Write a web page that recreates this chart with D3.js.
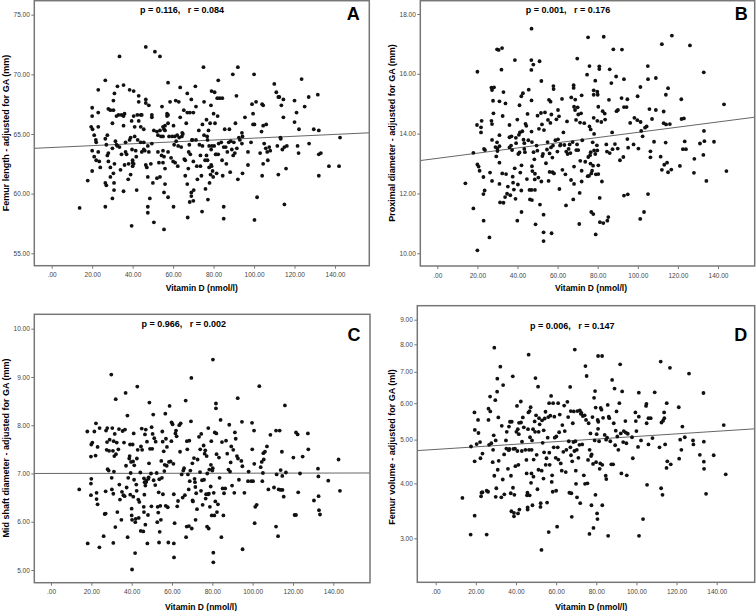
<!DOCTYPE html>
<html lang="en">
<head>
<meta charset="utf-8">
<title>Vitamin D and fetal femur measures</title>
<script src="https://d3js.org/d3.v7.min.js"></script>
<style>
  body { margin: 0; background: #fff; }
  text { font-family: Arial, "Liberation Sans", sans-serif; }
</style>
</head>
<body>
<script>
// shared x axis: Vitamin D (nmol/l)
const xTicks = [0, 20, 40, 60, 80, 100, 120, 140];
const xLabel = "Vitamin D (nmol/l)";

// ---- A: femur length
const yTicksA = [55, 60, 65, 70, 75];
const pointsA = [[13.8,58.8],[17.8,61.1],[20,67.2],[20,66.5],[19.5,65.6],[20.2,65.4],[21,64.9],[20,63.6],[21,63.1],[22,62.8],[20,61.9],[23,63.5],[23,66.8],[23,68.7],[23,65.6],[23.5,62.7],[24,62.2],[21.8,64.5],[22,64.3],[26.5,64.6],[27,64.1],[26.5,60.9],[27,60.7],[26.5,58.9],[26.5,69.5],[27.5,64.9],[28,63.4],[27.5,63.2],[28,62.7],[28,67.1],[29,67.0],[29,62.2],[29,61.4],[30,59.6],[30,65.9],[30,63.8],[30.5,67.0],[30.5,67.8],[31,68.4],[31,62.5],[30.5,61.7],[30.8,60.9],[30.8,60.3],[31.5,64.4],[32,64.1],[32,66.5],[32.5,64.0],[32.5,69.0],[33,66.6],[33.5,63.9],[34,62.0],[34.5,63.3],[33.5,71.5],[34.5,66.6],[35.5,66.5],[35.5,65.7],[36,62.4],[35.5,60.2],[35.5,69.1],[36,66.7],[36.5,64.3],[36.5,63.5],[37,63.3],[37.8,61.2],[38,62.5],[38.5,64.5],[39,61.6],[38.5,68.7],[39,64.7],[39.5,66.1],[39.7,63.7],[40,62.8],[40,62.6],[40,62.3],[40.5,62.5],[39.5,57.3],[40.5,68.6],[40.5,66.5],[41,64.8],[41,65.6],[41.5,63.6],[41.8,63.1],[42,60.3],[42.3,66.6],[42.5,64.5],[43,68.2],[43,67.7],[43,66.1],[44,64.3],[44,65.6],[44,66.6],[44.5,66.6],[44.5,63.5],[45.5,65.4],[45.5,64.3],[45.5,63.7],[46,63.6],[46.5,67.9],[46.5,67.6],[46.5,72.3],[46.5,62.4],[47,62.2],[47.5,61.4],[47.5,58.9],[47.5,58.4],[48,67.4],[47.5,64.0],[48,63.5],[48.5,59.6],[49,62.5],[49.5,66.6],[49.5,66.4],[49.5,64.2],[50,60.9],[50.5,57.6],[50.5,65.3],[51,71.9],[52,61.3],[52,65.2],[52.5,64.9],[52.5,63.5],[53,62.6],[53.5,61.4],[53.5,71.5],[53.5,65.3],[54,64.8],[54.3,63.2],[54.5,67.3],[55,65.6],[55,64.8],[55,62.6],[55,63.6],[55.5,63.1],[55.5,57.0],[55.5,60.1],[55.5,65.4],[56,65.7],[56,65.3],[56,62.1],[56,60.8],[57,66.7],[57,66.5],[57.5,63.5],[57.5,65.9],[57.5,69.3],[57.5,66.6],[57.5,59.7],[58,64.8],[58.5,67.7],[59,63.0],[59.5,64.8],[60,62.7],[60.2,65.7],[60.2,58.9],[60.5,64.1],[60.8,64.8],[61,62.6],[61.3,67.8],[61.5,64.4],[62,64.9],[62.3,62.3],[62.5,64.0],[62.8,67.7],[63,64.7],[63.5,66.4],[63.5,68.9],[64,63.9],[64.3,64.8],[64.5,65.1],[64.8,65.0],[65.3,67.0],[65.5,62.9],[66,61.5],[66,62.8],[66.5,65.9],[67,66.8],[67,60.8],[67,68.4],[67.2,58.0],[67.5,62.1],[67.7,63.5],[68,64.1],[68.2,59.3],[68.3,66.8],[68.5,63.3],[69,60.1],[69,59.8],[69,67.9],[69.3,64.5],[69.5,64.5],[70,66.8],[70,59.4],[70,62.7],[70.2,60.3],[71,69.0],[71.3,67.3],[71.3,64.5],[71.7,62.3],[72,61.2],[72.7,65.3],[73,64.1],[73.5,63.2],[73.5,62.3],[74,61.5],[74.3,58.5],[74.5,64.0],[74.5,65.8],[75,70.6],[75.3,67.7],[75.3,64.9],[75.8,62.8],[76,60.4],[76.5,63.2],[76.5,66.2],[76.8,64.8],[77,64.5],[77,62.8],[77.2,59.5],[77.5,65.3],[77.8,62.2],[77.8,64.0],[78,60.9],[78.3,65.9],[78.5,61.6],[78.7,67.4],[78.8,63.7],[78.8,62.4],[79,68.6],[79,62.3],[79.2,64.0],[79.5,61.9],[79.8,61.4],[80,66.7],[80.3,64.0],[80.5,68.5],[80.7,65.9],[81,63.3],[81.3,63.3],[81.5,61.7],[81.8,68.0],[82,66.5],[82.3,63.3],[82.3,69.5],[82.5,64.2],[83,68.0],[83.8,64.3],[84.2,62.8],[84.3,68.0],[84.5,61.5],[85,57.9],[85,58.9],[85,63.9],[85.5,65.4],[86,63.9],[86.3,62.5],[86.8,63.5],[87.5,64.3],[87.8,65.4],[88.2,61.8],[88.5,64.4],[89,63.7],[89.5,70.0],[89.7,63.2],[90,64.3],[90.5,63.4],[90.8,65.9],[91.3,68.2],[91.5,63.8],[92,70.6],[92,61.2],[92.5,64.7],[93,64.5],[94,64.2],[94.3,64.8],[94,65.1],[94.3,61.7],[95.5,66.4],[97,62.4],[97,63.5],[98.5,64.3],[99,67.5],[99.5,66.7],[99.5,65.8],[100,70.0],[100.2,57.8],[100.2,65.8],[101,67.7],[101.5,59.7],[103,63.4],[103.7,65.2],[104,67.5],[104.5,62.5],[104.5,65.7],[104.5,67.4],[104,61.5],[105,64.2],[105.8,63.8],[106,65.8],[106.5,63.5],[106.8,62.8],[107.5,63.9],[108,63.6],[110,69.2],[111,68.5],[111.5,64.0],[112,68.1],[112,61.6],[112.5,68.1],[113,64.7],[113.2,64.6],[113.5,67.4],[114,63.7],[114.5,67.9],[114.5,66.4],[115,59.1],[115,63.9],[115.8,62.1],[116.2,64.0],[120,67.8],[120,66.0],[121,66.8],[121.5,64.0],[122,63.4],[122.2,65.4],[123.5,69.6],[125,67.3],[127,68.1],[127.2,64.2],[129.5,65.4],[131.5,68.3],[132,65.3],[132,63.3],[132,61.5],[133,63.4],[137,62.3],[142,62.3],[142.5,64.7]];
const fitA = [[-8.6, 63.8], [157, 65.1]];

// ---- B: proximal diameter
const yTicksB = [10, 12, 14, 16, 18];
const pointsB = [[14,12.34],[18,13.36],[18,11.5],[20,16.07],[19.8,14.29],[20,12.97],[20.6,12.9],[21.1,12.76],[20,10.1],[21.8,14.21],[22.1,14.43],[21.8,14.04],[23,12.55],[23.3,13.49],[23.8,13.45],[23.6,12.1],[23,11.98],[23.1,11.09],[26,10.53],[26.3,12.7],[27,15.54],[27.3,15.46],[27,14.43],[27.3,14.32],[27.3,13.79],[27.3,12.42],[27.8,15.1],[28,14.68],[28.3,15.55],[29,13.55],[29.4,13.24],[29.8,13.71],[29.8,16.82],[30,13.5],[30,13.42],[30.6,16.8],[31,15.08],[31,13.95],[31,13.58],[31,13.03],[31,12.32],[31.3,11.7],[32,16.14],[32.3,16.86],[32.4,12.67],[32.6,14.59],[33,15.39],[33,11.69],[33.8,11.88],[34,15.01],[34.3,12.65],[34.8,11.99],[35.2,12.23],[36,13.88],[36,13.54],[36,14.29],[36.4,11.94],[36.8,13.6],[37,13.91],[37.3,13.45],[37.6,12.56],[37.8,12.36],[38.2,12.13],[38.6,12.84],[39,11.82],[38.7,16.46],[39.2,13.86],[39.3,13.68],[39.9,14.47],[39.9,11.09],[40.2,12.3],[40.4,13.32],[40.7,13.96],[41,13.37],[41,14.95],[41.2,14.04],[41.4,12.7],[41.9,12.1],[42,12.94],[42,11.38],[41.9,15.25],[42.4,14.08],[42.7,15.35],[43,13.8],[43.4,13.68],[43.4,13.49],[43.7,13.38],[44,14.33],[44.4,14.26],[44.7,12.48],[45,14.66],[45.4,13.78],[45.6,15.47],[46,12.12],[46.2,11.8],[46.9,16.46],[46.9,16.13],[47,17.51],[47,15.11],[47,14.07],[47.2,13.72],[47,12.12],[47.2,11.78],[47.2,12.91],[47.4,12.75],[47.9,16.31],[48,13.38],[48.4,13.14],[48.6,12.47],[48.7,12.12],[48.7,12.66],[49,10.97],[49.5,13.6],[49.9,13.43],[50,14.6],[50.4,12.53],[50.7,14.16],[51,16.42],[51.2,11.63],[51.7,14.69],[51.9,15.76],[51.9,12.4],[52.2,14.31],[52.4,13.25],[52.7,13.32],[53,11.29],[53,10.7],[53,10.41],[53.2,14.12],[53.7,14.71],[54.2,13.01],[54.7,13.47],[55,13.72],[55.2,14.46],[55.5,12.42],[55.7,15.13],[56,13.34],[56,12.72],[56.4,14.36],[56.5,15.07],[56.7,13.54],[56.9,14.64],[57,10.67],[57.4,13.2],[57.5,12.71],[57.7,13.6],[57.9,15.59],[58,15.49],[58.2,12.67],[58.9,13.78],[59.4,14.48],[59.9,13.4],[60.2,14.79],[60.2,13.81],[60.7,14.58],[60.9,12.15],[61.2,13.6],[61.5,13.63],[62.2,15.16],[62.4,12.79],[62.9,14.04],[63.4,13.62],[63.9,12.64],[64.2,11.6],[64.3,13.4],[64.7,14.41],[65,13.32],[65.5,13.49],[66,13.64],[66.4,13.35],[66.7,12.45],[66.8,15.21],[67.5,13.72],[67.8,11.8],[68,15.62],[68,15.53],[68.2,14.9],[68.2,12.9],[68.2,12.32],[68.7,14.79],[68.8,15.14],[69.2,14.46],[69.3,13.45],[69.7,13.64],[69.8,16.51],[70,14.88],[70.3,14.64],[70.3,13.45],[70.8,10.98],[71,12.02],[71.2,14.37],[71.3,13.09],[71.7,14.68],[72,15.28],[72,12.76],[72,12.4],[72.3,13.78],[73.3,14.35],[73.8,13.06],[74.7,15.97],[75,12.58],[75.3,13.22],[75.2,17.22],[75.7,12.59],[75.9,16.26],[75.9,14.24],[76.2,13.28],[76.4,13.0],[76.5,14.14],[76.5,13.38],[76.8,12.67],[76.8,11.38],[77.2,12.76],[77.5,13.71],[77.7,12.93],[77.8,11.31],[78,15.45],[78,15.3],[78,14.53],[78.2,13.99],[78.2,13.44],[78.8,15.77],[78.8,13.32],[79,10.63],[79.1,12.64],[79.6,13.61],[79.8,13.44],[79.8,14.43],[79.8,15.4],[80,15.3],[80.3,14.9],[80.3,12.94],[80.3,12.65],[80.8,16.25],[80.8,16.16],[81,11.85],[81.1,11.04],[81.8,14.39],[82.1,12.4],[82.5,14.75],[82.8,11.01],[83,17.24],[83.5,14.67],[83.7,14.47],[84.3,13.64],[84.6,13.4],[84.8,11.09],[85.3,11.21],[85.6,15.13],[86,16.15],[86,13.35],[86.8,15.69],[87.2,14.04],[87.4,13.48],[87.8,16.82],[88.6,13.65],[89.2,15.91],[89.4,14.75],[90,13.5],[90.1,14.79],[91.1,13.11],[91.9,15.19],[92.1,16.81],[92.8,13.22],[93.1,15.82],[93.1,11.93],[93.1,14.89],[94.4,14.89],[94.8,15.15],[94.8,13.82],[95,11.97],[95.2,13.53],[96.2,14.36],[97.9,13.64],[98.3,14.53],[99.8,14.45],[99.9,15.25],[100.3,13.5],[101.2,11.15],[101.3,15.56],[101.4,14.39],[101.7,14.09],[102.4,13.91],[103.1,11.38],[103.6,14.2],[104.4,14.24],[105,16.26],[105.1,15.82],[105.1,11.98],[105.8,14.82],[106.3,13.21],[106.3,13.41],[107.1,14.49],[108.1,13.73],[109,15.86],[109,14.79],[111.4,13.23],[112,12.79],[112,16.99],[112.9,14.35],[112.9,14.74],[113.2,12.96],[113.9,13.7],[114,15.3],[114.1,14.31],[114.6,13.03],[115.1,15.52],[115.1,12.71],[116,14.32],[116.7,12.8],[117,17.28],[121,12.92],[121.7,15.15],[121.8,14.49],[122.5,13.48],[123,14.51],[123.4,13.74],[124,13.48],[126,16.95],[128,12.69],[128.2,13.16],[131,13.67],[132.7,13.29],[132.9,16.05],[133,14.09],[133.2,13.75],[134.2,12.42],[138,13.73],[143,14.98],[144.2,12.75]];
const fitB = [[-8.5, 13.1], [158.3, 14.55]];

// ---- C: mid shaft diameter
const yTicksC = [5, 6, 7, 8, 9, 10];
const pointsC = [[14,6.67],[18.2,5.55],[18,7.87],[20,7.6],[20.5,7.64],[19.8,7.35],[20,6.89],[19.8,6.79],[19.8,6.55],[21.5,7.87],[22.3,8.04],[22.1,7.37],[22.6,6.6],[22.6,6.47],[23.1,6.36],[23.1,7.55],[24.1,7.94],[24,5.47],[26.1,5.7],[26.6,6.16],[27.1,6.17],[27.1,6.63],[27.3,7.89],[27.6,7.49],[27.8,7.65],[27.9,7.94],[28.1,7.09],[28.6,7.06],[28.8,7.47],[29.1,7.7],[29.9,9.05],[30.1,6.91],[30.2,6.67],[30.4,7.94],[30.7,7.47],[30.9,6.58],[30.9,5.56],[31.1,7.67],[31.2,7.04],[31.4,7.36],[31.6,7.82],[31.9,5.89],[32.1,8.54],[32.2,7.4],[32.6,7.64],[32.9,6.2],[33.4,7.5],[33.7,7.92],[33.9,6.77],[34.2,6.46],[34.9,6.04],[35.2,6.62],[35.5,7.88],[35.9,6.55],[36.2,7.64],[36.5,6.53],[36.7,7.91],[37,8.67],[37.2,7.16],[37.5,6.71],[37.9,8.2],[38,5.68],[38.3,6.91],[38.8,7.31],[39,7.36],[39.2,7.6],[39.3,6.56],[39.5,7.01],[39.7,7.24],[40,6.27],[40,6.13],[40.2,6.04],[40.2,5.01],[40.5,7.6],[40.7,7.25],[40.8,6.52],[41,7.83],[41.2,6.87],[41.3,7.17],[41.7,5.35],[41.8,5.99],[42,6.06],[42.3,6.77],[42.5,6.64],[42.6,7.31],[42.8,8.8],[43,7.49],[43.3,6.46],[43.5,6.08],[43.8,6.41],[44.3,7.02],[44.5,5.81],[44.6,7.56],[45,7.93],[45.2,7.49],[45.8,5.8],[46,6.31],[46.1,6.9],[46.1,6.2],[46.3,6.56],[46.4,6.82],[46.6,7.81],[46.8,5.94],[46.8,6.75],[47,7.91],[47.1,6.82],[47.3,6.85],[47.6,7.66],[47.8,5.55],[48.1,6.14],[48.3,6.89],[48.4,6.92],[48.6,7.21],[48.8,8.47],[49.1,7.51],[49.6,7.0],[49.8,6.32],[49.9,7.96],[50.2,7.51],[50.4,7.82],[50.7,8.22],[50.9,6.86],[51.2,7.73],[51.7,6.76],[51.9,7.66],[52.4,7.01],[52.7,5.99],[52.9,6.31],[53.2,6.19],[53.4,6.61],[53.6,5.57],[53.7,6.88],[53.9,5.79],[54.2,6.33],[54.5,6.04],[54.7,7.26],[55,6.91],[55.2,7.87],[55.4,7.66],[55.5,6.57],[55.9,7.46],[56.2,7.05],[56.4,7.18],[56.7,8.24],[56.9,6.33],[57,7.72],[57.4,7.16],[57.5,7.55],[57.9,6.3],[58.2,5.57],[58.5,7.24],[58.8,8.4],[59.3,7.25],[59.7,7.67],[59.8,8.06],[60.3,8.02],[60.7,7.2],[60.9,5.55],[60.9,6.57],[61,5.26],[61.3,5.97],[61.7,7.83],[62,7.89],[62.3,7.77],[62.6,6.32],[63,6.43],[63.6,8.0],[64,7.45],[64.3,8.04],[64.8,6.98],[65.3,6.5],[65.6,7.06],[66,7.11],[66.4,6.55],[66.8,8.51],[67,5.68],[67.3,5.9],[67.4,7.67],[67.6,7.5],[67.9,6.98],[68.3,6.67],[68.4,5.91],[68.6,7.68],[68.8,6.84],[69.1,7.06],[69.4,8.08],[69.6,8.98],[69.8,5.86],[70.1,7.21],[70.2,6.44],[70.4,6.42],[70.9,7.32],[71.2,6.89],[71.4,6.82],[71.6,6.72],[71.7,6.04],[72,6.59],[72.4,6.26],[72.7,7.29],[73.4,7.76],[73.9,7.03],[74,7.5],[74.4,6.64],[74.5,7.82],[74.9,6.86],[75.2,6.35],[75.7,7.58],[75.9,6.87],[76.2,7.41],[76.5,7.48],[76.7,6.48],[76.9,6.57],[77.2,7.36],[77.4,5.9],[77.5,7.0],[77.9,6.57],[78,7.94],[78.2,5.86],[78.3,6.58],[78.5,7.08],[78.8,6.31],[79.2,6.73],[79.3,7.18],[79.5,7.67],[79.7,6.13],[80,7.06],[80.2,7.11],[80.3,9.36],[80.5,5.36],[80.5,5.16],[80.7,6.6],[81,6.13],[81.2,7.85],[81.5,6.42],[81.8,8.45],[81.8,8.35],[82,7.83],[82.1,7.4],[82.3,6.2],[82.8,6.36],[83.3,7.33],[83.6,6.91],[84.1,8.11],[84.5,5.68],[84.8,7.65],[85.1,6.69],[85.5,6.13],[85.8,6.59],[86.4,6.69],[86.8,7.68],[87.4,7.41],[88,7.08],[88.4,8.01],[88.8,7.04],[89.1,7.23],[89.4,7.56],[89.8,6.75],[90.4,7.49],[90.9,6.6],[91.2,7.85],[91.6,7.72],[92.2,7.36],[92.6,8.56],[92.7,7.31],[93.2,6.87],[94.4,7.26],[94.7,8.07],[94.9,7.15],[95,5.43],[95.9,6.6],[97.7,6.84],[98,7.04],[99.3,6.84],[99.7,8.05],[99.8,7.5],[100.2,6.84],[100.7,7.89],[100.8,7.2],[101,5.97],[101.3,6.31],[102,6.35],[103.3,8.81],[104,7.13],[104.5,7.24],[104.8,6.84],[105.1,7.01],[105.3,7.42],[105.5,7.29],[106.1,7.45],[107.1,7.56],[107.8,6.67],[108.8,7.8],[110.6,6.71],[111.6,7.89],[111.6,5.9],[111.9,6.98],[112.6,5.7],[112.9,6.67],[113.4,7.89],[113.9,7.07],[113.9,6.66],[114.5,7.45],[114.7,6.95],[114.8,6.66],[115.4,6.52],[116,8.41],[116.5,7.02],[120.2,7.33],[120.8,6.14],[121.5,6.14],[121.5,7.85],[122.3,7.81],[122.6,6.61],[123.5,7.0],[124.8,7.35],[127.4,7.83],[127.6,7.5],[130.4,6.44],[132.4,7.1],[132.6,6.94],[132.7,6.53],[132.9,6.24],[133.4,6.15],[137.5,6.85],[142.6,7.29],[143.3,6.64]];
const fitC = [[-8.5, 7.0], [158, 7.01]];

// ---- D: femur volume (power-transformed axis)
const yTicksD = [3, 4, 5, 6, 7, 8, 9];
const pointsD = [[13.3,3.71],[17.4,3.06],[17.6,4.83],[19.4,3.38],[19.4,4.48],[19.3,5.73],[19.5,5.25],[20.4,4.89],[21.1,5.52],[21.3,5.17],[22.1,4.94],[22.3,4.55],[22.6,3.74],[22.8,3.81],[23.3,3.82],[23.3,4.66],[25.4,3.06],[25.4,3.85],[26.1,3.83],[26.3,5.84],[26.3,5.52],[26.6,4.87],[27.1,6.2],[27.2,5.76],[27.7,4.91],[28.4,4.46],[28.6,4.75],[28.9,5.11],[29.2,4.16],[29.2,7.87],[29.7,6.09],[29.9,4.98],[29.9,3.73],[30.2,3.9],[30.6,6.35],[30.7,6.77],[30.9,4.29],[31.2,5.59],[31.4,4.49],[32.2,7.18],[32.7,3.72],[32.9,5.36],[33.4,4.08],[33.6,6.56],[34.1,4.64],[34.2,3.78],[35,4.98],[35.2,4.78],[35.4,5.2],[36,4.31],[36.4,4.74],[36.5,5.34],[36.7,4.77],[37,5.47],[37.4,3.8],[37.5,4.16],[37.7,3.46],[37.9,5.47],[38.4,6.85],[38.5,3.91],[38.7,4.77],[39,3.43],[39,3.37],[39.2,3.77],[39.5,4.78],[39.7,4.37],[40.2,5.2],[40.5,5.92],[40.7,4.72],[40.9,5.27],[41,3.42],[41.2,4.4],[41.4,5.14],[41.5,5.44],[41.7,3.49],[42.4,6.05],[42.5,5.45],[42.9,4.72],[43,4.95],[43.4,5.59],[43.9,5.32],[44.7,4.75],[45.2,4.51],[45.3,4.21],[45.5,3.76],[45.7,3.81],[45.8,3.53],[45.8,3.49],[46,5.27],[46.2,5.73],[46.3,7.61],[46.5,4.75],[46.8,5.77],[46.8,3.76],[47,5.06],[47.3,5.88],[47.5,4.01],[47.7,4.21],[47.8,4.75],[48,4.98],[48.2,3.57],[48.5,5.27],[48.7,4.14],[48.8,4.52],[49.3,5.48],[49.5,5.2],[49.7,6.79],[50,5.65],[50.3,4.63],[50.7,3.88],[51,6.51],[51.2,4.29],[51.3,5.2],[51.5,5.57],[51.8,5.4],[52.2,3.54],[52.3,3.61],[52.7,2.82],[52.8,4.27],[53,5.51],[53.3,4.92],[53.7,4.1],[53.8,5.24],[54,4.69],[54.3,5.56],[54.7,5.75],[54.8,4.4],[55.2,4.55],[55.5,3.62],[55.8,5.05],[56.1,5.6],[56.3,3.1],[56.5,6.0],[56.6,4.68],[56.8,4.4],[57.1,5.64],[57.5,6.22],[57.8,4.03],[58,4.17],[58.3,3.83],[58.5,6.0],[58.8,4.81],[59.1,5.61],[59.3,5.05],[59.8,4.56],[60,3.85],[60.1,5.08],[60.5,3.19],[60.8,4.81],[61,6.0],[61.1,4.52],[61.5,5.19],[61.8,5.67],[62.3,4.43],[62.8,4.27],[63.1,5.38],[63.6,4.7],[64,5.93],[64.3,5.22],[64.8,4.24],[65.1,4.75],[65.6,6.04],[66,5.6],[66.3,4.96],[66.6,3.81],[67,6.5],[67.1,4.81],[67.3,5.77],[67.4,4.62],[67.6,3.8],[67.8,3.36],[68,4.48],[68.3,5.43],[68.6,4.94],[68.8,5.76],[69.1,4.72],[69.3,7.8],[69.6,4.96],[69.8,4.27],[69.9,3.99],[70.3,4.75],[70.4,3.72],[70.6,5.77],[71.1,4.56],[71.6,4.87],[71.8,5.79],[72,3.61],[72.3,5.69],[72.6,5.72],[73,4.88],[73.3,5.63],[73.8,4.17],[74.2,5.65],[74.4,3.99],[74.6,7.2],[74.9,5.52],[75.2,6.86],[75.6,4.0],[75.9,4.51],[76.2,5.43],[76.6,3.07],[76.7,4.75],[77.1,5.16],[77.4,4.6],[77.6,3.57],[77.7,4.64],[78.1,5.6],[78.4,4.42],[78.6,3.17],[78.9,6.16],[79.2,4.98],[79.4,6.37],[79.6,3.77],[79.7,5.87],[79.9,4.46],[80.2,5.14],[80.4,3.42],[80.6,3.32],[80.7,5.52],[80.9,5.28],[80.9,7.56],[81,5.47],[81.4,4.96],[81.7,4.31],[82,4.43],[82.2,5.86],[82.6,5.81],[82.9,7.56],[83,4.4],[83,3.57],[83.4,5.58],[84.2,5.12],[84.7,4.16],[84.9,5.0],[85,4.09],[85.4,5.05],[85.7,5.95],[85.9,3.04],[86.2,5.61],[86.5,5.57],[87,4.96],[87.5,4.41],[87.9,6.73],[88.4,4.41],[88.7,5.43],[89.1,6.45],[89.4,4.86],[89.7,5.23],[90.1,5.76],[90.5,5.08],[91,4.75],[91.5,6.0],[91.9,7.26],[92.2,5.16],[92.5,4.21],[92.9,6.36],[93.4,4.94],[93.7,5.22],[94.5,5.49],[94.7,5.18],[95,4.91],[95.2,4.17],[95.7,5.15],[97.8,5.06],[98.2,4.55],[99.5,5.73],[99.7,5.49],[100,5.22],[100.8,4.82],[101.2,5.61],[101.2,6.32],[101.3,3.04],[102.3,4.98],[103.3,3.32],[104.8,5.92],[105,5.98],[105.1,5.43],[105.3,3.97],[106,5.57],[106,4.88],[107.1,5.57],[108,5.04],[109.1,6.33],[111.5,4.81],[112.1,7.36],[112.3,3.9],[112.5,5.45],[113,3.77],[113.3,5.5],[113.8,5.73],[113.9,5.57],[114.3,4.88],[115,4.33],[115.1,6.0],[115.4,4.48],[116.7,7.14],[117.1,4.41],[121.1,5.88],[121.3,4.54],[121.8,5.0],[122.4,4.75],[122.9,5.34],[124.1,5.06],[126.2,6.94],[128.2,4.98],[128.4,4.88],[131.6,4.63],[133.4,6.31],[133.6,4.95],[133.6,4.47],[133.7,4.31],[134.7,3.79],[138.5,4.62],[143.5,5.38],[144.5,4.19]];
const fitD = [[-9.1, 4.73], [159, 5.28]];

const stats = ["p = 0.116,   r = 0.084", "p = 0.001,   r = 0.176", "p = 0.966,   r = 0.002", "p = 0.006,   r = 0.147"];
const letters = ["A", "B", "C", "D"];
const yLabels = ["Femur length - adjusted for GA (mm)", "Proximal diameter - adjusted for GA (mm)",
                 "Mid shaft diameter - adjusted for GA (mm)", "Femur volume - adjusted for GA (ml)"];

// layout of the four panels (pixels)
const layout = [
  {box: [34.3, 0.7, 369.3, 265.7], xPix: [51.7, 335], yPix: [253.3, 14.7], yLab: 8.5, labelMid: 133,
   xLabX: 201.7, xLabY: 291, statX: 182, statY: 13, letterX: 353.3, letterY: 20},
  {box: [420.3, 0.7, 754.7, 266], xPix: [437.3, 718], yPix: [253.3, 14], yLab: 395, labelMid: 133,
   xLabX: 591, xLabY: 291, statX: 568, statY: 13, letterX: 741.3, letterY: 20},
  {box: [34.3, 314.3, 370, 582.7], xPix: [51, 333.3], yPix: [570, 328.7], yLab: 8.5, labelMid: 448,
   xLabX: 201, xLabY: 610, statX: 183.7, statY: 327, letterX: 354, letterY: 341},
  {box: [417.3, 305.7, 754.7, 582.3], xPix: [435.7, 716.7], yPix: [538.3, 319.7], yLab: 394.5, labelMid: 447,
   xLabX: 591.3, xLabY: 610, statX: 572.3, statY: 329, letterX: 740.7, letterY: 341}
];

const sets = [
  {points: pointsA, fit: fitA, yTicks: yTicksA, pow: false},
  {points: pointsB, fit: fitB, yTicks: yTicksB, pow: false},
  {points: pointsC, fit: fitC, yTicks: yTicksC, pow: false},
  {points: pointsD, fit: fitD, yTicks: yTicksD, pow: true}
];

const fmt = d => d3.format(".2f")(d).replace(/^0\./, ".");

const svg = d3.select("body").append("svg")
  .attr("width", 756).attr("height", 611);

sets.forEach((s, i) => {
  const L = layout[i];
  const [l, t, r, b] = L.box;
  const x = d3.scaleLinear().domain([0, 140]).range(L.xPix);
  const yDom = [s.yTicks[0], s.yTicks[s.yTicks.length - 1]];
  const y = (s.pow ? d3.scalePow().exponent(0.1) : d3.scaleLinear()).domain(yDom).range(L.yPix);

  const g = svg.append("g");

  g.append("clipPath").attr("id", "clip" + i)
    .append("rect").attr("x", l).attr("y", t).attr("width", r - l).attr("height", b - t);

  // axes
  const ya = g.append("g").attr("transform", `translate(${l},0)`)
    .call(d3.axisLeft(y).tickValues(s.yTicks).tickFormat(fmt).tickSize(3).tickPadding(1.5));
  const xa = g.append("g").attr("transform", `translate(0,${b})`)
    .call(d3.axisBottom(x).tickValues(xTicks).tickFormat(fmt).tickSize(3).tickPadding(4));
  [ya, xa].forEach(a => {
    a.select(".domain").remove();
    a.selectAll("line").attr("stroke", "#777");
    a.selectAll("text").attr("font-size", "6.5px").attr("fill", "#444");
  });

  // fit line
  g.append("path")
    .attr("clip-path", `url(#clip${i})`)
    .attr("d", d3.line().x(d => x(d[0])).y(d => y(d[1]))(s.fit))
    .attr("stroke", "#555").attr("stroke-width", 0.9).attr("fill", "none");

  // points
  g.append("g").selectAll("circle").data(s.points).join("circle")
    .attr("cx", d => x(d[0])).attr("cy", d => y(d[1]))
    .attr("r", 1.9).attr("fill", "#111");

  // frame
  g.append("rect").attr("x", l).attr("y", t).attr("width", r - l).attr("height", b - t)
    .attr("fill", "none").attr("stroke", "#777").attr("stroke-width", 1.5);

  // texts
  g.append("text").attr("x", L.statX).attr("y", L.statY)
    .attr("text-anchor", "middle").attr("font-size", "9px").attr("font-weight", "bold")
    .style("white-space", "pre").text(stats[i]);

  g.append("text").attr("x", L.letterX).attr("y", L.letterY)
    .attr("text-anchor", "middle").attr("font-size", "18px").attr("font-weight", "bold")
    .text(letters[i]);

  g.append("text").attr("x", L.xLabX).attr("y", L.xLabY)
    .attr("text-anchor", "middle").attr("font-size", "8.5px").attr("font-weight", "bold")
    .text(xLabel);

  g.append("text")
    .attr("transform", `translate(${L.yLab},${L.labelMid}) rotate(-90)`)
    .attr("text-anchor", "middle").attr("font-size", "9px").attr("font-weight", "bold")
    .text(yLabels[i]);
});
</script>
</body>
</html>
